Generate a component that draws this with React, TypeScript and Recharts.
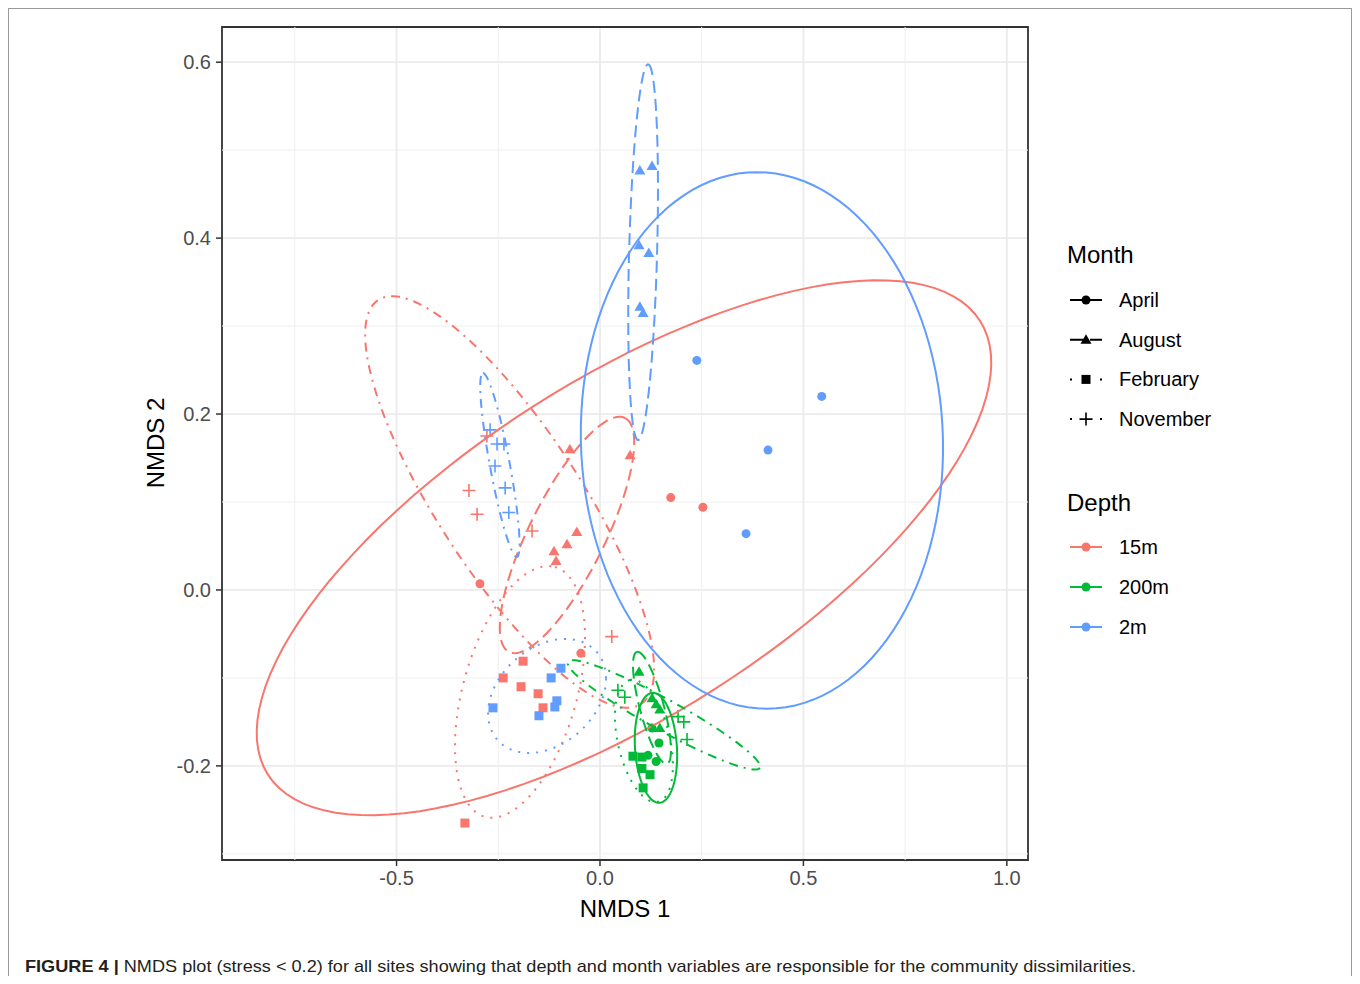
import React from "react";
import {
  ScatterChart,
  Scatter,
  XAxis,
  YAxis,
  CartesianGrid,
  ReferenceLine,
  ReferenceArea,
} from "recharts";

const FONT = '"Liberation Sans", Arial, Helvetica, sans-serif';

const depths = ["15m", "200m", "2m"];
const depthColors: Record<string, string> = {
  "15m": "#F8766D",
  "200m": "#00BA38",
  "2m": "#619CFF",
};
const months = ["April", "August", "February", "November"];
const monthDash: Record<string, string | undefined> = {
  April: undefined,
  August: "12 6",
  February: "2 7",
  November: "9 6 2 6",
};
// the legend keys are short, so their patterns are set apart
const legendDash: Record<string, string | undefined> = {
  April: undefined,
  August: "15 5 12 0",
  February: "2 28",
  November: "2 28",
};

const xTicks = [-0.5, 0, 0.5, 1.0];
const yTicks = [-0.2, 0, 0.2, 0.4, 0.6];
const xMinor = [-0.75, -0.25, 0.25, 0.75];
const yMinor = [-0.3, -0.1, 0.1, 0.3, 0.5];
const xDomain = [-0.929, 1.052];
const yDomain = [-0.307, 0.64];

// site scores [NMDS1, NMDS2]
const april15m = [[0.174, 0.105], [0.253, 0.094], [-0.295, 0.007], [-0.047, -0.072]];
const august15m = [[-0.074, 0.16], [0.074, 0.153], [-0.057, 0.066], [-0.081, 0.052], [-0.113, 0.044], [-0.108, 0.033]];
const february15m = [[-0.189, -0.081], [-0.238, -0.1], [-0.194, -0.11], [-0.152, -0.118], [-0.14, -0.134], [-0.332, -0.265]];
const november15m = [[-0.278, 0.175], [-0.322, 0.113], [-0.302, 0.086], [-0.167, 0.067], [0.029, -0.053]];

const april200m = [[0.128, -0.157], [0.145, -0.174], [0.118, -0.188], [0.138, -0.195]];
const august200m = [[0.096, -0.093], [0.128, -0.123], [0.138, -0.13], [0.147, -0.136], [0.147, -0.157]];
const february200m = [[0.081, -0.189], [0.103, -0.19], [0.103, -0.203], [0.123, -0.21], [0.106, -0.225]];
const november200m = [[0.044, -0.114], [0.061, -0.122], [0.192, -0.144], [0.206, -0.15], [0.214, -0.17]];

const april2m = [[0.238, 0.261], [0.545, 0.22], [0.413, 0.159], [0.359, 0.064]];
const august2m = [[0.098, 0.477], [0.128, 0.482], [0.096, 0.392], [0.12, 0.383], [0.098, 0.322], [0.106, 0.315]];
const february2m = [[-0.096, -0.089], [-0.12, -0.1], [-0.263, -0.134], [-0.106, -0.126], [-0.111, -0.133], [-0.15, -0.143]];
const november2m = [[-0.27, 0.182], [-0.253, 0.166], [-0.236, 0.166], [-0.258, 0.141], [-0.233, 0.116], [-0.224, 0.088]];

// ellipses per month (April, August, February, November):
// [centre x, centre y, axis1 x, axis1 y, axis2 x, axis2 y] in NMDS units
const ellipses15m = [
  [0.059, 0.048, 0.875, 0.258, -0.222, 0.161],
  [-0.081, 0.0625, 0.1425, 0.133, 0.0835, -0.0192],
  [-0.1966, -0.1159, 0.086, 0.142, 0.1347, -0.0174],
  [-0.222, 0.1, 0.322, -0.23, 0.15, 0.043],
];
const ellipses200m = [
  [0.1376, -0.1795, -0.0074, 0.0625, 0.0516, 0],
  [0.1278, -0.134, -0.0369, 0.0636, 0.0285, 0.0035],
  [0.108, -0.1716, -0.0344, 0.0693, 0.0624, 0.0066],
  [0.1572, -0.142, 0.2359, -0.0602, -0.0184, -0.0155],
];
const ellipses2m = [
  [0.398, 0.17, -0.012, 0.305, 0.445, 0],
  [0.106, 0.384, 0.0123, 0.2136, 0.0344, 0],
  [-0.13, -0.1205, 0.145, 0.0198, 0, -0.0617],
  [-0.246, 0.142, -0.0418, 0.1045, 0.0241, 0.002],
];

const pointSets: Record<string, number[][][]> = {
  "15m": [april15m, august15m, february15m, november15m],
  "200m": [april200m, august200m, february200m, november200m],
  "2m": [april2m, august2m, february2m, november2m],
};
const ellipseSets: Record<string, number[][]> = {
  "15m": ellipses15m,
  "200m": ellipses200m,
  "2m": ellipses2m,
};

function outline(e: number[]) {
  const [cx, cy, ux, uy, vx, vy] = e;
  const pts = [];
  for (let i = 0; i <= 120; i++) {
    const t = (i / 120) * Math.PI * 2;
    pts.push({
      x: cx + ux * Math.cos(t) + vx * Math.sin(t),
      y: cy + uy * Math.cos(t) + vy * Math.sin(t),
    });
  }
  return pts;
}

function Mark({ cx, cy, kind, color }: any) {
  if (cx == null || cy == null) return <g />;
  if (kind === "April") return <circle cx={cx} cy={cy} r={4.5} fill={color} />;
  if (kind === "August")
    return (
      <path
        d={`M${cx},${cy - 5.5}L${cx + 5.5},${cy + 4}L${cx - 5.5},${cy + 4}Z`}
        fill={color}
      />
    );
  if (kind === "February")
    return <rect x={cx - 4.5} y={cy - 4.5} width={9} height={9} fill={color} />;
  return (
    <path
      d={`M${cx - 6.5},${cy}H${cx + 6.5}M${cx},${cy - 6.5}V${cy + 6.5}`}
      stroke={color}
      strokeWidth={1.6}
      fill="none"
    />
  );
}

const Empty = () => <g />;

function LegendRow({ y, label, color, month }: any) {
  return (
    <g>
      <line
        x1={1062}
        x2={1094}
        y1={y}
        y2={y}
        stroke={color}
        strokeWidth={2}
        strokeDasharray={month ? legendDash[month] : undefined}
      />
      <Mark cx={1078} cy={y} kind={month || "April"} color={color} />
      <text x={1111} y={y + 7} fontSize={20} fontFamily={FONT} fill="#000">
        {label}
      </text>
    </g>
  );
}

export default function App() {
  return (
    <div
      style={{
        position: "relative",
        width: 1343,
        height: 967,
        borderTop: "1px solid #9a9a9a",
        borderLeft: "1px solid #9a9a9a",
        background: "#fff",
      }}
    >
      <div style={{ position: "absolute", left: -1, top: -1 }}>
        <ScatterChart
          width={1040}
          height={930}
          margin={{ top: 19, right: 20, bottom: 18, left: 0 }}
        >
          <CartesianGrid stroke="#EBEBEB" strokeWidth={1.8} />
          {xMinor.map((v) => (
            <ReferenceLine key={`xm${v}`} x={v} stroke="#EFEFEF" strokeWidth={1} />
          ))}
          {yMinor.map((v) => (
            <ReferenceLine key={`ym${v}`} y={v} stroke="#EFEFEF" strokeWidth={1} />
          ))}
          <XAxis
            type="number"
            dataKey="x"
            domain={xDomain}
            allowDataOverflow
            ticks={xTicks}
            tickFormatter={(v) => v.toFixed(1)}
            height={60}
            axisLine={false}
            tickLine={{ stroke: "#333", strokeWidth: 1.5 }}
            tickSize={6}
            tickMargin={5}
            tick={{ fontSize: 20, fill: "#4D4D4D", fontFamily: FONT }}
          />
          <YAxis
            type="number"
            dataKey="y"
            domain={yDomain}
            allowDataOverflow
            ticks={yTicks}
            tickFormatter={(v) => v.toFixed(1)}
            width={214}
            axisLine={false}
            tickLine={{ stroke: "#333", strokeWidth: 1.5 }}
            tickSize={6}
            tickMargin={5}
            tick={{ fontSize: 20, fill: "#4D4D4D", fontFamily: FONT }}
          />
          {depths.map((d) =>
            months.map((m, i) => (
              <Scatter
                key={`p-${d}-${m}`}
                data={pointSets[d][i].map(([x, y]) => ({ x, y }))}
                isAnimationActive={false}
                legendType="none"
                shape={(p: any) => (
                  <Mark cx={p.cx} cy={p.cy} kind={m} color={depthColors[d]} />
                )}
              />
            ))
          )}
          {depths.map((d) =>
            months.map((m, i) => (
              <Scatter
                key={`e-${d}-${m}`}
                data={outline(ellipseSets[d][i])}
                isAnimationActive={false}
                legendType="none"
                shape={Empty}
                line={{
                  stroke: depthColors[d],
                  strokeWidth: 2,
                  strokeDasharray: monthDash[m],
                  fill: "none",
                }}
                lineType="joint"
              />
            ))
          )}
          <ReferenceArea
            x1={xDomain[0]}
            x2={xDomain[1]}
            y1={yDomain[0]}
            y2={yDomain[1]}
            fill="none"
            fillOpacity={0}
            stroke="#333"
            strokeWidth={1.8}
            ifOverflow="visible"
          />
        </ScatterChart>
      </div>
      <svg
        width={1344}
        height={968}
        style={{ position: "absolute", left: -1, top: -1, pointerEvents: "none" }}
      >
        <line x1={1343.5} x2={1343.5} y1={0} y2={968} stroke="#9a9a9a" strokeWidth={1} />
        <text
          transform="translate(147,435) rotate(-90)"
          textAnchor="middle"
          dominantBaseline="central"
          fontSize={24}
          fontFamily={FONT}
          fill="#000"
        >
          NMDS 2
        </text>
        <text x={617} y={909} textAnchor="middle" fontSize={24} fontFamily={FONT} fill="#000">
          NMDS 1
        </text>

        <text x={1059} y={255} fontSize={24} fontFamily={FONT} fill="#000">
          Month
        </text>
        {months.map((m, i) => (
          <LegendRow key={m} y={292 + i * 39.7} label={m} color="#000" month={m} />
        ))}
        <text x={1059} y={503} fontSize={24} fontFamily={FONT} fill="#000">
          Depth
        </text>
        {depths.map((d, i) => (
          <LegendRow key={d} y={539 + i * 40} label={d} color={depthColors[d]} />
        ))}

        <text
          x={17}
          y={964}
          fontSize={17}
          fontFamily={FONT}
          fill="#231F20"
          textLength={1111}
          lengthAdjust="spacingAndGlyphs"
        >
          <tspan fontWeight="bold">FIGURE 4 |</tspan>
          <tspan> NMDS plot (stress {"<"} 0.2) for all sites showing that depth and month variables are responsible for the community dissimilarities.</tspan>
        </text>
      </svg>
    </div>
  );
}
